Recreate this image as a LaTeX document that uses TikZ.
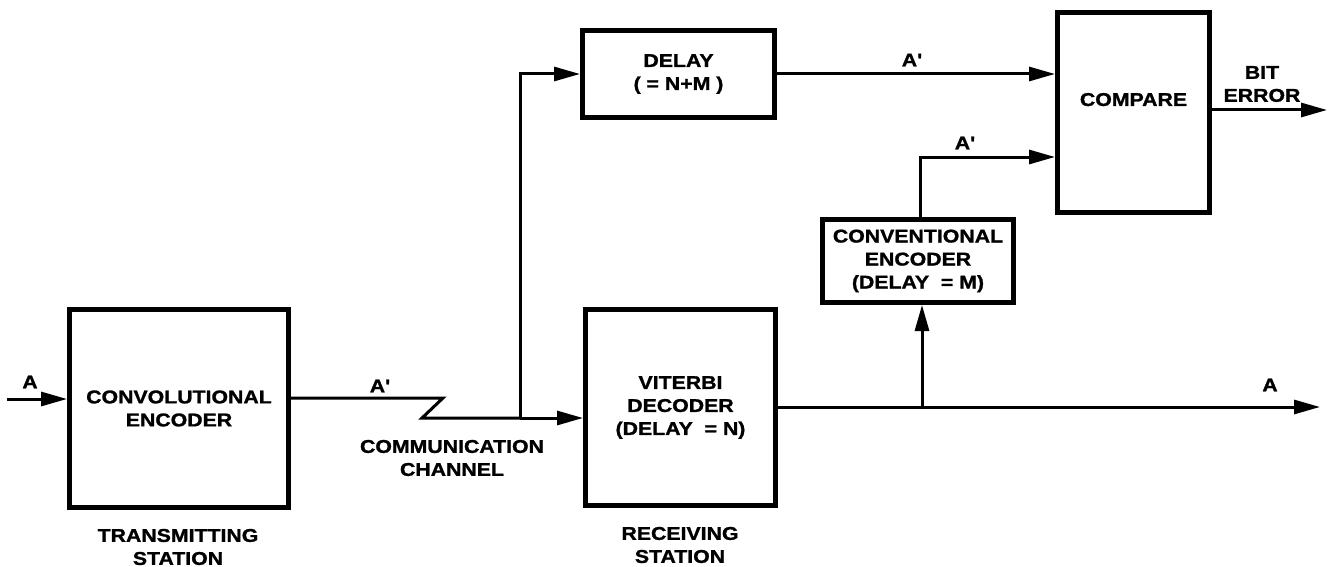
\documentclass[tikz,border=0pt]{standalone}
\usepackage{fontspec}
\newfontfamily\diagfont[FakeStretch=1.15, FakeBold=1.3]{Liberation Sans}
\usepackage{tikz}
\usetikzlibrary{arrows.meta}

\begin{document}
\begin{tikzpicture}[
    x=1pt, y=-1pt,
    font=\diagfont\bfseries\fontsize{18.5}{23}\selectfont,
    block/.style={draw, line width=5pt, align=center, inner sep=0pt},
    wire/.style={line width=3pt},
    arrow/.style={wire, -{Triangle[length=26pt, width=14pt]}},
    tag/.style={align=center, inner sep=0pt}
]
\useasboundingbox (0,0) rectangle (1330,567);

% blocks
\node[block, minimum width=219pt, minimum height=198pt] (conv) at (179,408.5) {CONVOLUTIONAL\\ENCODER};
\node[block, minimum width=190pt, minimum height=196pt] (viterbi) at (680.5,407.5) {VITERBI\\DECODER\\(DELAY \ = N)};
\node[block, minimum width=192pt, minimum height=87pt] (delay) at (678.5,74) {DELAY\\( = N+M )};
\node[block, minimum width=191pt, minimum height=83pt] (convenc) at (918,261) {CONVENTIONAL\\ENCODER\\(DELAY \ = M)};
\node[block, minimum width=152pt, minimum height=200pt, text depth=26pt] (compare) at (1133.5,112.5) {COMPARE};

% free ends and corners
\coordinate (ain) at (7,399);
\coordinate (zigA) at (443,398);
\coordinate (zigB) at (422,418);
\coordinate (split) at (520,418);
\coordinate (tap) at (922,407);
\coordinate (aout) at (1320,407);
\coordinate (bend) at (920,157);
\coordinate (berr) at (1327,110);

% connectors
\draw[arrow] (ain) -- (ain -| conv.west);
\draw[wire] (conv.east |- zigA) -- (zigA) -- (zigB) -- (split);
\draw[arrow] (split) -- (split -| viterbi.west);
\draw[arrow] (split) |- (delay.west);
\draw[arrow] (delay.east) -- (delay.east -| compare.west);
\draw[arrow] (viterbi.east |- aout) -- (aout);
\draw[arrow] (tap) -- (tap |- convenc.south);
\draw[arrow] (bend |- convenc.north) -- (bend) -- (bend -| compare.west);
\draw[arrow] (compare.east |- berr) -- (berr);

% labels
\node[tag] (lblin) at (30,382) {A};
\node[tag] (lblch) at (380,386) {A'};
\node[tag] (lbldel) at (912,60) {A'};
\node[tag] (lblenc) at (965,143) {A'};
\node[tag] (lblout) at (1270,385) {A};
\node[tag] (lblbit) at (1262,84) {BIT\\ERROR};
\node[tag] (channel) at (452,458) {COMMUNICATION\\CHANNEL};
\node[tag] (txstation) at (178,547) {TRANSMITTING\\STATION};
\node[tag] (rxstation) at (680,545) {RECEIVING\\STATION};

\end{tikzpicture}
\end{document}
